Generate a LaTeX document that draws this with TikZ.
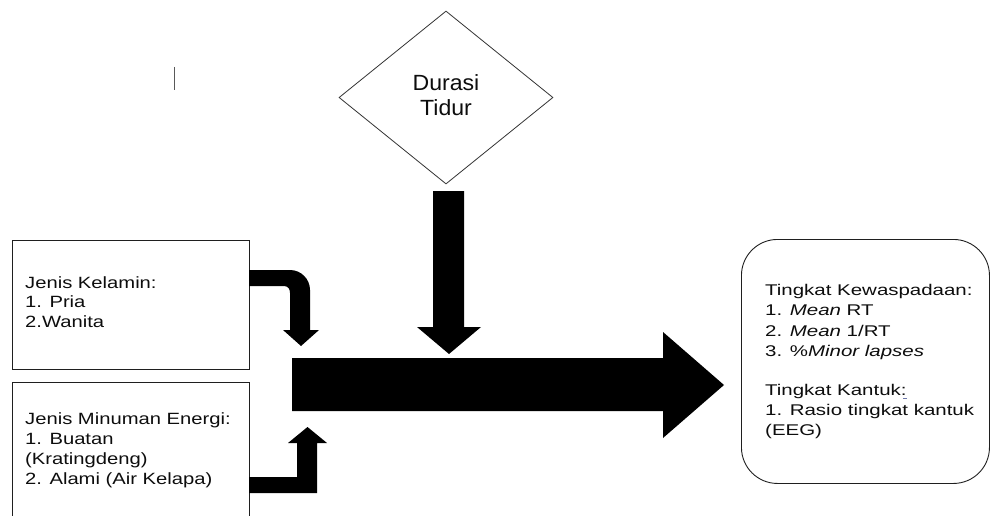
\documentclass[tikz,border=0pt]{standalone}
\usepackage{fontspec}
\setmainfont{Liberation Sans}
\newfontfamily\leftfont[FakeStretch=1.24]{Liberation Sans}
\newfontfamily\rightfont[FakeStretch=1.32]{Liberation Sans}
\newfontfamily\diafont[FakeStretch=1.05]{Liberation Sans}
\usetikzlibrary{shapes.geometric}

\definecolor{marklink}{RGB}{110,120,170}

\tikzset{
  frame/.style={draw=black!88, line width=0.9pt, inner sep=0pt, anchor=north west},
  ltext/.style={anchor=base west, inner sep=0pt, font=\leftfont\fontsize{16.3}{20}\selectfont, text=black!95},
  rtext/.style={anchor=base west, inner sep=0pt, font=\rightfont\fontsize{15.5}{20}\selectfont, text=black!95},
  dtext/.style={anchor=base, inner sep=0pt, font=\diafont\fontsize{22}{26}\selectfont, text=black!95},
  blockarrow/.style={fill=black, draw=none},
}

\begin{document}
\begin{tikzpicture}[x=1pt, y=-1pt]
\useasboundingbox (0,0) rectangle (990,516);

% text cursor mark
\draw[black!65, line width=1.2pt] (174.5,67) -- (174.5,90);

% diamond: sleep duration
\node[diamond, draw=black!80, line width=0.8pt, minimum width=214pt, minimum height=173pt, inner sep=0pt] (durasi) at (446,97.5) {};
\node[dtext] (d1) at (446,91) {Durasi};
\node[dtext] (d2) at (446,116) {Tidur};

% left input boxes
\node[frame, minimum width=237pt, minimum height=129pt] (kelamin) at (12,240) {};
\node[ltext] (k1) at (25,288) {Jenis Kelamin:};
\node[ltext] (k2) at (25,307.5) {1. Pria};
\node[ltext] (k3) at (25,327) {2.Wanita};

\node[frame, minimum width=237pt, minimum height=140pt] (minuman) at (12,382) {};
\node[ltext] (m1) at (25,424) {Jenis Minuman Energi:};
\node[ltext] (m2) at (25,444) {1. Buatan};
\node[ltext] (m3) at (25,464) {(Kratingdeng)};
\node[ltext] (m4) at (25,484) {2. Alami (Air Kelapa)};

% right outcome box
\node[frame, rounded corners=36pt, minimum width=248pt, minimum height=244pt] (hasil) at (741,239) {};
\node[rtext] (h1) at (765,295) {Tingkat Kewaspadaan:};
\node[rtext] (h2) at (765,315.5) {1. \textit{Mean} RT};
\node[rtext] (h3) at (765,336) {2. \textit{Mean} 1/RT};
\node[rtext] (h4) at (765,356) {3. \%\textit{Minor lapses}};
\node[rtext] (h5) at (765,395) {Tingkat Kantuk:};
\node[rtext] (h6) at (765,415) {1. Rasio tingkat kantuk};
\node[rtext] (h7) at (765,435) {(EEG)};
% small mark under the colon
\draw[marklink, line width=0.8pt] (h5.base east) ++(-4,3) -- ++(4,0);

% main arrow towards the outcome
\fill[blockarrow] (292,358) -- (663,358) -- (663,332) -- (724,385)
  -- (663,438) -- (663,411) -- (292,411) -- cycle;

% arrow down from the diamond
\fill[blockarrow] (433,191) -- (464,191) -- (464,327) -- (481,327)
  -- (449,354) -- (417,327) -- (433,327) -- cycle;

% bent arrow from the first box
\fill[blockarrow] (249,270) -- (290,270) .. controls (301,270) and (310,279) .. (310,290)
  -- (310,330) -- (319,330) -- (301,346) -- (283,330) -- (290,330) -- (290,293)
  .. controls (290,289) and (288,286) .. (284,286) -- (249,286) -- cycle;

% bent arrow from the second box
\fill[blockarrow] (249,477) -- (297,477) -- (297,443) -- (288,443) -- (307.5,427)
  -- (327,443) -- (317,443) -- (317,493) -- (249,493) -- cycle;
\end{tikzpicture}
\end{document}
